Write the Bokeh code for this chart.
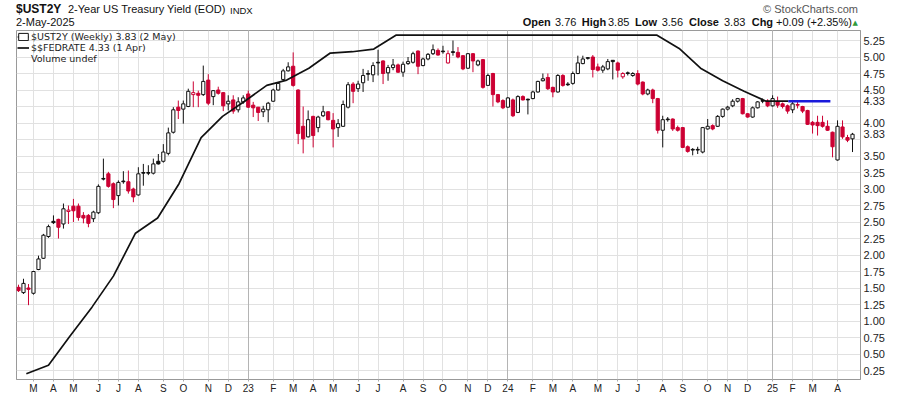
import numpy as np
import pandas as pd
from bokeh.plotting import figure
from bokeh.layouts import column
from bokeh.models import (Range1d, LinearAxis, FixedTicker, Grid, Legend, Div,
                          LegendItem, ColumnDataSource, NumeralTickFormatter)
from bokeh.embed import file_html
from bokeh.resources import INLINE

# ---------------- data ----------------
first_week = "2022-02-18"   # weekly bars (Fridays)
n_weeks = 168

opens = [1.51, 1.43, 1.50, 1.42, 1.78, 1.95, 2.28, 2.51, 2.54, 2.47,
         2.66, 2.74, 2.74, 2.60, 2.60, 2.55, 2.64, 3.16, 3.23, 3.08,
         2.90, 3.12, 3.11, 3.00, 2.91, 3.25, 3.25, 3.24, 3.42, 3.42,
         3.54, 3.86, 4.24, 4.21, 4.25, 4.43, 4.45, 4.43, 4.65, 4.40,
         4.50, 4.46, 4.29, 4.35, 4.20, 4.32, 4.44, 4.27, 4.24, 4.17,
         4.20, 4.33, 4.50, 4.66, 4.79, 4.86, 4.50, 3.95, 3.79, 4.10,
         3.93, 4.11, 4.17, 4.04, 3.93, 3.95, 4.24, 4.59, 4.52, 4.61,
         4.75, 4.73, 4.92, 4.94, 4.76, 4.84, 4.88, 4.77, 4.90, 4.92,
         5.09, 4.87, 4.97, 5.05, 5.10, 5.09, 4.91, 5.08, 5.07, 5.02,
         4.83, 5.05, 4.88, 4.96, 4.57, 4.75, 4.43, 4.34, 4.24, 4.35,
         4.16, 4.40, 4.36, 4.37, 4.47, 4.64, 4.69, 4.54, 4.47, 4.72,
         4.59, 4.60, 4.75, 4.90, 4.99, 5.00, 4.85, 4.80, 4.82, 4.95,
         4.91, 4.70, 4.76, 4.72, 4.75, 4.62, 4.44, 4.50, 4.37, 3.89,
         4.06, 4.06, 3.93, 3.93, 3.64, 3.60, 3.60, 3.56, 3.91, 3.96,
         3.95, 4.10, 4.21, 4.26, 4.33, 4.37, 4.14, 4.09, 4.23, 4.34,
         4.33, 4.26, 4.32, 4.29, 4.26, 4.20, 4.28, 4.25, 4.19, 4.01,
         4.01, 4.01, 3.95, 3.86, 3.44, 3.94, 3.78, 3.76]
highs = [1.55, 1.64, 1.56, 1.76, 1.99, 2.32, 2.46, 2.60, 2.55, 2.78,
         2.75, 2.85, 2.78, 2.65, 2.62, 2.67, 3.07, 3.46, 3.26, 3.10,
         3.13, 3.27, 3.28, 3.02, 3.33, 3.38, 3.36, 3.46, 3.53, 3.68,
         3.93, 4.24, 4.34, 4.34, 4.52, 4.63, 4.49, 4.87, 4.74, 4.50,
         4.55, 4.47, 4.42, 4.42, 4.39, 4.42, 4.49, 4.32, 4.24, 4.26,
         4.32, 4.52, 4.62, 4.82, 4.92, 5.07, 4.51, 4.25, 4.19, 4.11,
         4.11, 4.26, 4.18, 4.15, 4.06, 4.34, 4.62, 4.62, 4.64, 4.82,
         4.80, 4.92, 5.11, 4.95, 4.88, 4.97, 4.90, 4.93, 5.00, 5.08,
         5.10, 4.99, 5.06, 5.19, 5.13, 5.17, 5.10, 5.25, 5.15, 5.03,
         5.06, 5.06, 4.96, 4.97, 4.75, 4.76, 4.44, 4.36, 4.39, 4.37,
         4.42, 4.42, 4.37, 4.49, 4.64, 4.75, 4.75, 4.55, 4.74, 4.74,
         4.62, 4.78, 5.02, 5.02, 5.00, 5.03, 4.90, 4.88, 4.97, 4.95,
         4.93, 4.77, 4.78, 4.77, 4.80, 4.63, 4.52, 4.52, 4.38, 4.11,
         4.09, 4.07, 3.96, 3.94, 3.66, 3.62, 3.64, 3.94, 4.06, 3.98,
         4.12, 4.22, 4.26, 4.36, 4.38, 4.38, 4.15, 4.25, 4.33, 4.37,
         4.36, 4.42, 4.40, 4.31, 4.28, 4.32, 4.34, 4.26, 4.20, 4.03,
         4.11, 4.11, 4.04, 3.87, 4.04, 4.04, 3.82, 3.85]
lows = [1.44, 1.41, 1.24, 1.40, 1.77, 1.94, 2.26, 2.47, 2.25, 2.40,
        2.47, 2.50, 2.52, 2.48, 2.42, 2.50, 2.62, 3.13, 3.02, 2.71,
        2.75, 3.08, 2.93, 2.80, 2.90, 3.05, 3.21, 3.22, 3.37, 3.40,
        3.51, 3.84, 4.06, 3.99, 4.24, 4.24, 4.24, 4.41, 4.27, 4.27,
        4.43, 4.18, 4.19, 4.14, 4.16, 4.29, 4.23, 4.09, 4.03, 4.09,
        4.01, 4.32, 4.49, 4.64, 4.78, 4.55, 3.68, 3.54, 3.78, 3.63,
        3.86, 4.09, 4.04, 3.63, 3.79, 3.94, 4.22, 4.30, 4.47, 4.47,
        4.64, 4.62, 4.72, 4.59, 4.64, 4.80, 4.76, 4.70, 4.88, 4.90,
        4.74, 4.86, 4.95, 5.03, 5.02, 5.05, 4.90, 5.02, 4.98, 4.80,
        4.82, 4.77, 4.86, 4.52, 4.56, 4.25, 4.30, 4.21, 4.23, 4.09,
        4.15, 4.34, 4.13, 4.36, 4.46, 4.63, 4.50, 4.39, 4.46, 4.55,
        4.56, 4.58, 4.74, 4.89, 4.96, 4.69, 4.78, 4.76, 4.80, 4.66,
        4.69, 4.67, 4.72, 4.70, 4.57, 4.42, 4.42, 4.30, 3.84, 3.63,
        4.02, 3.88, 3.87, 3.62, 3.55, 3.51, 3.53, 3.54, 3.90, 3.89,
        3.94, 4.08, 4.19, 4.24, 4.31, 4.13, 4.08, 4.08, 4.22, 4.30,
        4.24, 4.25, 4.23, 4.22, 4.14, 4.15, 4.22, 4.15, 3.97, 3.84,
        3.81, 3.93, 3.88, 3.48, 3.43, 3.76, 3.71, 3.56]
closes = [1.46, 1.57, 1.48, 1.75, 1.94, 2.30, 2.43, 2.49, 2.42, 2.70,
          2.68, 2.67, 2.57, 2.56, 2.48, 2.65, 3.04, 3.15, 3.04, 2.84,
          3.10, 3.11, 2.97, 2.88, 3.23, 3.24, 3.24, 3.38, 3.38, 3.56,
          3.85, 4.20, 4.19, 4.29, 4.48, 4.46, 4.42, 4.63, 4.30, 4.49,
          4.45, 4.26, 4.33, 4.18, 4.32, 4.38, 4.24, 4.23, 4.16, 4.21,
          4.30, 4.50, 4.60, 4.79, 4.85, 4.57, 3.84, 3.76, 4.05, 3.81,
          4.09, 4.17, 4.05, 3.91, 3.99, 4.28, 4.58, 4.48, 4.59, 4.72,
          4.74, 4.87, 4.91, 4.75, 4.84, 4.88, 4.77, 4.89, 4.93, 5.05,
          4.86, 4.97, 5.04, 5.11, 5.03, 5.08, 5.05, 5.07, 5.00, 4.82,
          5.05, 4.94, 4.94, 4.54, 4.72, 4.43, 4.32, 4.23, 4.38, 4.11,
          4.40, 4.35, 4.35, 4.47, 4.63, 4.67, 4.52, 4.47, 4.72, 4.57,
          4.58, 4.75, 4.91, 4.97, 4.98, 4.81, 4.80, 4.85, 4.93, 4.93,
          4.80, 4.75, 4.75, 4.75, 4.59, 4.44, 4.50, 4.37, 3.89, 4.05,
          4.05, 3.91, 3.89, 3.63, 3.57, 3.59, 3.59, 3.93, 3.95, 3.91,
          4.10, 4.21, 4.24, 4.33, 4.37, 4.14, 4.09, 4.23, 4.32, 4.33,
          4.26, 4.37, 4.27, 4.25, 4.18, 4.29, 4.27, 4.18, 3.98, 3.97,
          3.96, 3.95, 3.89, 3.64, 3.95, 3.79, 3.74, 3.83]

# $$FEDRATE monthly values, dated the 1st of each month (Mar 2022 .. Apr 2025)
fed_start = "2022-03-01"
fed_rate = [0.20, 0.33, 0.77, 1.21, 1.68, 2.33, 2.56, 3.08, 3.78, 4.10,
            4.33, 4.57, 4.65, 4.83, 5.06, 5.08, 5.12, 5.33, 5.33, 5.33, 5.33, 5.33,
            5.33, 5.33, 5.33, 5.33, 5.33, 5.33, 5.33, 5.33, 5.13, 4.83, 4.64, 4.48,
            4.33, 4.33, 4.33, 4.33]
fed_recent_from = "2025-02-01"

y_ticks = [0.25, 0.50, 0.75, 1.00, 1.25, 1.50, 1.75, 2.00, 2.25, 2.50, 2.75,
           3.00, 3.25, 3.50, 3.75, 4.00, 4.25, 4.50, 4.75, 5.00, 5.25]
month_letters = ["J", "F", "M", "A", "M", "J", "J", "A", "S", "O", "N", "D"]

RED = "#cc0033"
BLACK = "#111111"

# ---------------- derived ----------------
weeks = pd.date_range(first_week, periods=n_weeks, freq="7D")
idx = np.arange(n_weeks)
prev_close = [opens[0]] + closes[:-1]
line_col = [RED if c < pc else BLACK for c, pc in zip(closes, prev_close)]
fill_col = [lc if c < o else "white" for lc, c, o in zip(line_col, closes, opens)]
src = ColumnDataSource(dict(
    x=idx, o=opens, h=highs, l=lows, c=closes,
    top=np.maximum(opens, closes), bot=np.minimum(opens, closes),
    lc=line_col, fc=fill_col))

mondays = weeks - pd.Timedelta(days=4)
month_idx, month_lab, year_idx = [], [], []
for i in range(1, n_weeks):
    if mondays[i].month != mondays[i - 1].month:
        m = mondays[i].month
        if m == 1:
            year_idx.append(i)
            month_lab.append(str(mondays[i].year)[2:])
        else:
            month_lab.append(month_letters[m - 1])
        month_idx.append(i)

fed_dates = pd.date_range(fed_start, periods=len(fed_rate), freq="MS")
fed_x = (fed_dates - weeks[0]).days / 7.0
cut = pd.Timestamp(fed_recent_from)
old = fed_dates <= cut
new = fed_dates >= cut

# ---------------- layout geometry ----------------
W = 900
HEAD_H = 30                     # header strip above the chart
FIG_H = 396 - HEAD_H
FL, FR = 16, 860                # frame left/right (px)
FB = 349                        # frame bottom inside the figure (page y 379)
X0, X1 = -0.4, 168.6
PX_PER_UNIT = 66.0
Y525 = 10                       # 5.25 grid line, px below frame top
y_hi = 5.25 + Y525 / PX_PER_UNIT
y_lo = 5.25 - (FB - Y525) / PX_PER_UNIT

p = figure(width=W, height=FIG_H, output_backend="svg", toolbar_location=None,
           x_range=Range1d(X0, X1), y_range=Range1d(y_lo, y_hi),
           x_axis_type=None, y_axis_type=None,
           min_border_left=FL, min_border_right=W - FR, min_border_top=0,
           min_border_bottom=FIG_H - FB, margin=(0, 0, 0, 0))
p.outline_line_color = "#9a9a9a"
p.background_fill_color = "white"
p.border_fill_color = "white"

yt = FixedTicker(ticks=y_ticks, minor_ticks=[])
mt = FixedTicker(ticks=month_idx, minor_ticks=[])
ytk = FixedTicker(ticks=year_idx, minor_ticks=[])
p.add_layout(Grid(dimension=1, ticker=yt, grid_line_color="#e1e1e1"))
p.add_layout(Grid(dimension=0, ticker=mt, grid_line_color="#e1e1e1"))
p.add_layout(Grid(dimension=0, ticker=ytk, grid_line_color="#b4b4b4"))

# price scale: regular ticks plus the last values of both series
last_vals = [fed_rate[-1], closes[-1]]
yax = LinearAxis(ticker=FixedTicker(ticks=y_ticks + last_vals, minor_ticks=[]),
                 formatter=NumeralTickFormatter(format="0.00"))
# the last-value markers sit over these two tick labels
yax.major_label_overrides = {4.25: "", 3.75: ""}
yax.axis_line_color = "#999999"
yax.axis_line_dash = "1 1"
yax.major_tick_out = 0
yax.major_tick_in = 0
yax.minor_tick_out = 0
yax.major_label_standoff = 3
yax.major_label_text_font = "Liberation Sans"
yax.major_label_text_font_size = "11px"
yax.major_label_text_color = "#222222"
p.add_layout(yax, "right")

xax = LinearAxis(ticker=mt)
xax.major_label_overrides = {int(i): t for i, t in zip(month_idx, month_lab)}
xax.axis_line_color = "#999999"
xax.axis_line_dash = "1 1"
xax.major_tick_out = 2
xax.major_tick_in = 0
xax.major_tick_line_color = "#aaaaaa"
xax.minor_tick_out = 0
xax.major_label_standoff = 1
xax.major_label_text_font = "Liberation Sans"
xax.major_label_text_font_size = "10px"
xax.major_label_text_color = "#222222"
p.add_layout(xax, "below")

# candles
wick = p.segment(x0="x", y0="l", x1="x", y1="h", source=src, line_color="lc", line_width=1)
body = p.vbar(x="x", top="top", bottom="bot", width=0.64, source=src,
              fill_color="fc", line_color="lc", line_width=1)

# fed funds rate
fed_line = p.line(fed_x[old], np.array(fed_rate)[old], line_color="#111111", line_width=1.7)
p.line(fed_x[new], np.array(fed_rate)[new], line_color="#1a1adb", line_width=2.6)

vol = p.vbar(x=[], top=[], width=0.5, fill_color="#888888", line_color="#888888")

leg = Legend(items=[
    LegendItem(label=f"$UST2Y (Weekly) {closes[-1]:.2f} (2 May)", renderers=[wick, body], index=1),
    LegendItem(label=f"$$FEDRATE {fed_rate[-1]:.2f} (1 Apr)", renderers=[fed_line]),
    LegendItem(label="Volume undef", renderers=[vol]),
], location="top_left", background_fill_alpha=0, border_line_alpha=0,
    label_text_font="DejaVu Sans", label_text_font_size="9.5px", label_text_color="#222222",
    glyph_width=12, glyph_height=9, label_height=9, spacing=0, padding=1, margin=0,
    label_standoff=2)
p.add_layout(leg)

# ---------------- header strip ----------------
def span(text, left, top, size, bold=False, color="#111111", font="'Liberation Sans', Arial",
         right=None):
    pos = f"right:{right}px;" if right is not None else f"left:{left}px;"
    return (f'<span style="position:absolute;{pos}top:{top}px;font-family:{font};'
            f'font-size:{size}px;line-height:1;white-space:nowrap;color:{color};'
            f'font-weight:{"bold" if bold else "normal"};">{text}</span>')


parts = [
    span("$UST2Y", 16, 3.3, 12, bold=True),
    span("2-Year US Treasury Yield (EOD)", 68, 4.2, 11),
    span("INDX", 230, 5.5, 9.5),
    span("2-May-2025", 16, 17.4, 11),
    span("&copy; StockCharts.com", None, 4.0, 11, color="#555555", right=W - 858),
]
hdr = [("Open", 522.7, True), (f"{opens[-1]:.2f}", 555, False),
       ("High", 581.7, True), (f"{highs[-1]:.2f}", 608, False),
       ("Low", 635, True), (f"{lows[-1]:.2f}", 661.7, False),
       ("Close", 689, True), (f"{closes[-1]:.2f}", 724, False),
       ("Chg", 751.7, True), ("+0.09 (+2.35%)", 776, False)]
for t, x, b in hdr:
    parts.append(span(t, x, 16.7, 11, bold=b))
parts.append(span("&#9650;", 852.5, 19.5, 7, color="#2f9a3a", font="'DejaVu Sans'"))

header = Div(text=(f'<div style="position:relative;width:{W}px;height:{HEAD_H}px;'
                   f'overflow:hidden;background:white;">' + "".join(parts) + "</div>"),
             width=W, height=HEAD_H, margin=(0, 0, 0, 0))

layout = column(header, p, spacing=0, margin=(0, 0, 0, 0))
open("out.html", "w").write(file_html(layout, INLINE))
